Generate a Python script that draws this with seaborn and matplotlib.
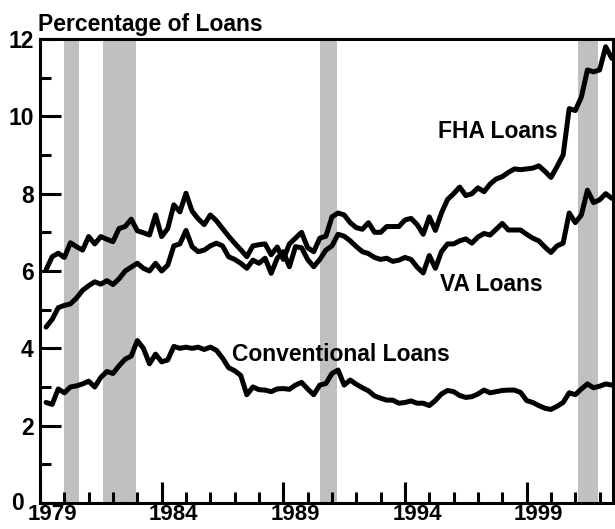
import matplotlib

matplotlib.use("Agg")
import matplotlib.pyplot as plt
import matplotlib.transforms as mtransforms
from matplotlib.ticker import MultipleLocator
import numpy as np
import pandas as pd
import seaborn as sns

# quarterly shares of loans, 1979Q2 .. 2002Q3
FHA = [
    6.03, 6.37, 6.46, 6.35, 6.73, 6.63, 6.54, 6.89, 6.70, 6.89, 6.82, 6.76,
    7.10, 7.15, 7.34, 7.04, 6.99, 6.93, 7.45, 6.89, 7.10, 7.71, 7.53, 8.01,
    7.55, 7.35, 7.20, 7.45, 7.30, 7.10, 6.90, 6.72, 6.55, 6.37, 6.65, 6.68,
    6.70, 6.42, 6.62, 6.30, 6.70, 6.85, 7.00, 6.60, 6.50, 6.85, 6.90, 7.40,
    7.50, 7.45, 7.25, 7.12, 7.08, 7.25, 7.00, 7.00, 7.15, 7.15, 7.15, 7.32,
    7.36, 7.20, 6.95, 7.40, 7.05, 7.50, 7.85, 8.00, 8.17, 7.95, 8.00, 8.15,
    8.05, 8.25, 8.38, 8.44, 8.55, 8.64, 8.62, 8.64, 8.66, 8.72, 8.58, 8.42,
    8.70, 9.00, 10.20, 10.15, 10.50, 11.20, 11.15, 11.20, 11.80, 11.50,
]
VA = [
    4.55, 4.75, 5.05, 5.11, 5.15, 5.30, 5.50, 5.62, 5.72, 5.66, 5.75, 5.65,
    5.80, 6.00, 6.10, 6.20, 6.07, 6.00, 6.20, 6.00, 6.15, 6.65, 6.70, 7.05,
    6.63, 6.50, 6.54, 6.65, 6.72, 6.65, 6.37, 6.30, 6.20, 6.07, 6.28, 6.20,
    6.33, 5.94, 6.33, 6.50, 6.11, 6.63, 6.60, 6.30, 6.11, 6.30, 6.54, 6.65,
    6.95, 6.90, 6.78, 6.63, 6.50, 6.45, 6.35, 6.30, 6.33, 6.25, 6.28, 6.35,
    6.30, 6.10, 5.95, 6.40, 6.07, 6.50, 6.70, 6.70, 6.78, 6.83, 6.72, 6.88,
    6.97, 6.93, 7.08, 7.23, 7.06, 7.06, 7.06, 6.95, 6.85, 6.78, 6.62, 6.48,
    6.65, 6.72, 7.50, 7.25, 7.45, 8.09, 7.77, 7.84, 8.00, 7.88,
]
CONVENTIONAL = [
    2.60, 2.55, 2.95, 2.85, 3.00, 3.03, 3.08, 3.15, 3.00, 3.25, 3.40, 3.35,
    3.55, 3.72, 3.80, 4.20, 4.00, 3.60, 3.85, 3.65, 3.70, 4.05, 4.00, 4.03,
    4.00, 4.03, 3.97, 4.03, 3.95, 3.75, 3.50, 3.42, 3.30, 2.80, 3.00, 2.93,
    2.92, 2.88, 2.95, 2.96, 2.94, 3.05, 3.12, 2.95, 2.80, 3.05, 3.09, 3.35,
    3.44, 3.05, 3.18, 3.07, 2.98, 2.90, 2.77, 2.71, 2.66, 2.66, 2.58, 2.60,
    2.64, 2.58, 2.58, 2.52, 2.65, 2.82, 2.91, 2.88, 2.78, 2.73, 2.75, 2.82,
    2.92, 2.85, 2.88, 2.91, 2.92, 2.92, 2.86, 2.65, 2.60, 2.52, 2.45, 2.42,
    2.50, 2.60, 2.85, 2.80, 2.95, 3.08, 2.98, 3.02, 3.08, 3.05,
]
FIRST_QUARTER = 1979.25

# recessions (shaded)
REC_START = [1980.0, 1981.6, 1990.5, 2001.1]
REC_END = [1980.6, 1982.95, 1991.2, 2001.95]

YEAR_LABELS = [1979, 1984, 1989, 1994, 1999]

SERIES_LABELS = ["FHA Loans", "VA Loans", "Conventional Loans"]
LABEL_X = [1995.35, 1995.45, 1986.9]
LABEL_Y = [9.6, 5.64, 3.83]

FONT = 16.5


def main():
    sns.set_style("ticks")
    plt.rcParams["font.family"] = ["Liberation Sans", "DejaVu Sans"]
    plt.rcParams["font.weight"] = "bold"
    plt.rcParams["text.color"] = "black"
    plt.rcParams["xtick.color"] = "black"
    plt.rcParams["ytick.color"] = "black"

    quarters = FIRST_QUARTER + 0.25 * np.arange(len(FHA))
    df = pd.concat(
        [
            pd.DataFrame({"year": quarters, "pct": vals, "series": name})
            for name, vals in zip(SERIES_LABELS, [FHA, VA, CONVENTIONAL])
        ],
        ignore_index=True,
    )

    fig = plt.figure(figsize=(6.15, 5.29), dpi=100)
    ax = fig.add_axes([40 / 615, 26 / 529, 573 / 615, 464 / 529])

    for s, e in zip(REC_START, REC_END):
        ax.axvspan(s, e, color="#c0c0c0", lw=0, zorder=0)

    sns.lineplot(
        data=df, x="year", y="pct", hue="series",
        palette=["black"] * 3, legend=False, lw=3.6, ax=ax, zorder=3,
    )

    ax.set_xlim(1979.0, 2002.55)
    ax.set_ylim(0, 12)
    ax.set_xlabel("")
    ax.set_ylabel("")

    ax.set_xticks(YEAR_LABELS)
    ax.set_xticklabels([str(y) for y in YEAR_LABELS])
    ax.xaxis.set_minor_locator(MultipleLocator(1))
    ax.set_yticks(range(0, 13, 2))
    ax.yaxis.set_minor_locator(MultipleLocator(1))

    ax.tick_params(which="both", direction="in", width=2.2, color="black",
                   labelcolor="black")
    ax.tick_params(which="major", length=15)
    ax.tick_params(which="minor", length=8)
    ax.tick_params(axis="x", which="major", pad=0.5, labelsize=16)
    ax.tick_params(axis="y", which="major", pad=4.5, labelsize=FONT)

    # year labels sit mid-year, right of their tick
    offset = mtransforms.ScaledTranslation(0.12, 0, fig.dpi_scale_trans)
    for lab in ax.get_xticklabels():
        lab.set_transform(lab.get_transform() + offset)
        lab.set_fontweight("bold")
    for lab in ax.get_yticklabels():
        lab.set_fontweight("bold")
    # the "0" sits left of the first year label
    zero = ax.get_yticklabels()[0]
    zero.set_transform(zero.get_transform()
                       + mtransforms.ScaledTranslation(-0.10, 0.02, fig.dpi_scale_trans))

    for side in ["left", "right", "top", "bottom"]:
        ax.spines[side].set_visible(True)
        ax.spines[side].set_linewidth(2.2)
        ax.spines[side].set_color("black")

    for name, x, y in zip(SERIES_LABELS, LABEL_X, LABEL_Y):
        ax.text(x, y, name, fontsize=FONT, fontweight="bold", color="black",
                ha="left", va="center", zorder=4)

    fig.text(38 / 615, 1 - 31 / 529, "Percentage of Loans", fontsize=FONT,
             fontweight="bold", color="black", ha="left", va="baseline")

    fig.savefig("out.png", dpi=100)
    plt.close(fig)


if __name__ == "__main__":
    main()
